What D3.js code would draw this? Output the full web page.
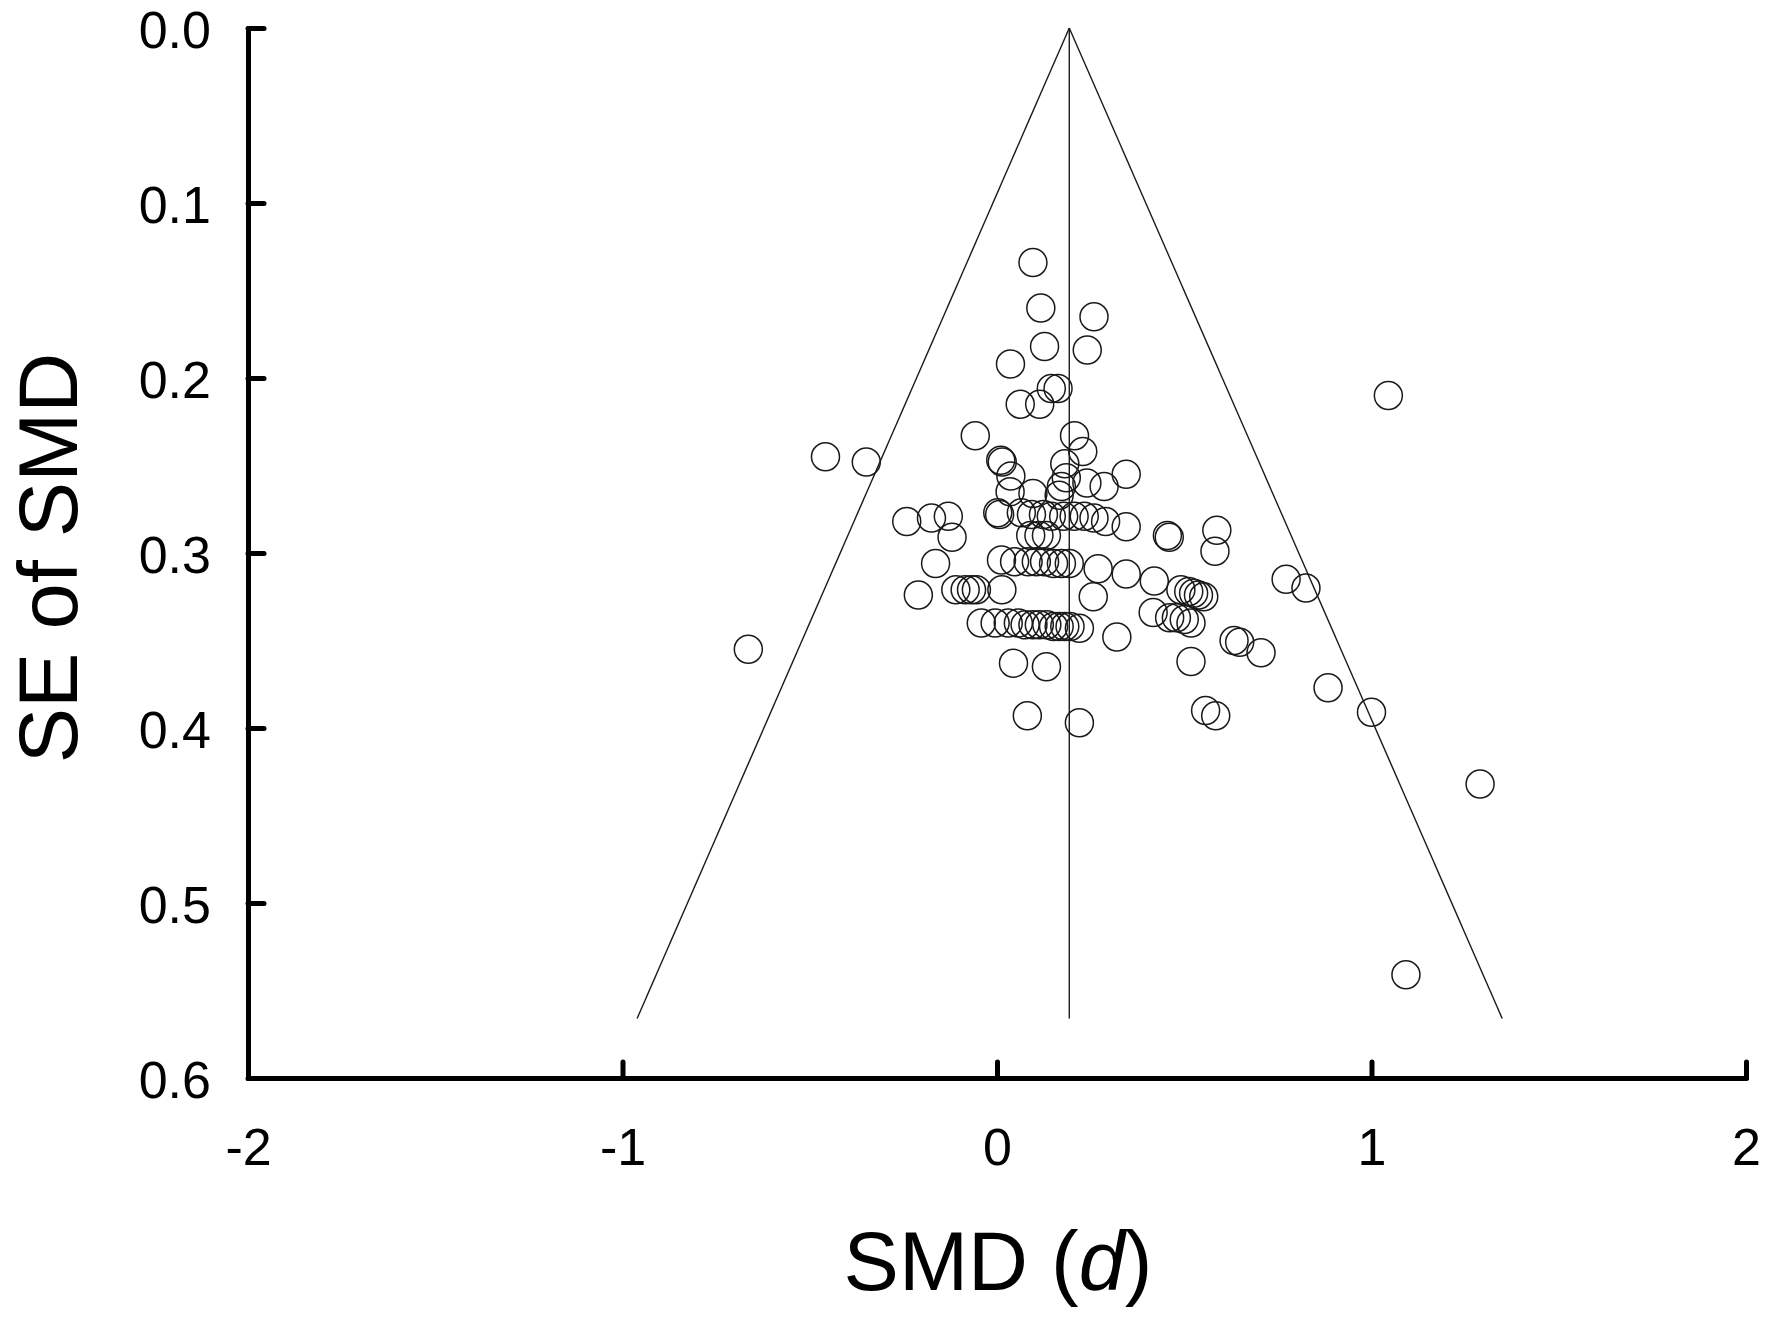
<!DOCTYPE html>
<html>
<head>
<meta charset="utf-8">
<script src="https://cdn.jsdelivr.net/npm/d3@7"></script>
<style>
  html, body { margin: 0; padding: 0; background: #fff; }
  svg { display: block; }
  text { font-family: "Liberation Sans", Arial, sans-serif; fill: #000; }
</style>
</head>
<body>
<svg id="chart" width="1770" height="1320"></svg>
<script>
// ---- data (SMD, SE of SMD) ----
const smd = [
  0.096, 0.117, 0.259, 0.127, 0.241, 0.036, 0.145, 0.163, 0.062, 0.114,
  1.045, -0.058, 0.207, 0.229, -0.458, -0.349, 0.010, 0.014, 0.181, 0.037,
  0.185, 0.240, 0.286, 0.345, 0.172, 0.035, 0.096, 0.166,
  0.002, 0.007, 0.065, 0.092, 0.124, 0.145, 0.178, 0.206, 0.233, 0.259,
  0.290, 0.345, -0.241, -0.175, -0.130, -0.120,
  0.090, 0.112, 0.132, 0.455, 0.460, 0.587, 0.582,
  -0.164, 0.012, 0.047, 0.083, 0.105, 0.127, 0.151, 0.172, 0.193, 0.270,
  0.345, 0.420, 0.772, 0.825,
  -0.210, -0.110, -0.085, -0.068, -0.055, 0.013, 0.491, 0.512, 0.525, 0.538,
  0.552, 0.257, 0.417, 0.461, 0.479, 0.500, 0.518,
  -0.042, -0.005, 0.030, 0.057, 0.075, 0.096, 0.113, 0.133, 0.151, 0.166,
  0.181, 0.195, 0.220, 0.320, 0.633, 0.648, 0.705, -0.664, 0.518, 0.044,
  0.132, 0.884, 0.557, 0.584, 0.081, 0.220, 1.000, 1.290, 1.092
];
const se = [
  0.134, 0.160, 0.165, 0.182, 0.184, 0.192, 0.206, 0.206, 0.215, 0.215,
  0.210, 0.233, 0.233, 0.242, 0.245, 0.248, 0.247, 0.248, 0.249, 0.256,
  0.257, 0.260, 0.262, 0.255, 0.262, 0.265, 0.266, 0.267,
  0.277, 0.278, 0.277, 0.278, 0.278, 0.279, 0.279, 0.279, 0.279, 0.280,
  0.282, 0.285, 0.282, 0.280, 0.279, 0.291,
  0.290, 0.290, 0.290, 0.290, 0.291, 0.287, 0.299,
  0.306, 0.304, 0.305, 0.305, 0.305, 0.305, 0.306, 0.306, 0.306, 0.309,
  0.312, 0.316, 0.315, 0.320,
  0.324, 0.321, 0.321, 0.321, 0.321, 0.321, 0.321, 0.322, 0.323, 0.324,
  0.325, 0.325, 0.334, 0.337, 0.337, 0.338, 0.340,
  0.340, 0.340, 0.340, 0.340, 0.341, 0.341, 0.341, 0.341, 0.342, 0.342,
  0.342, 0.342, 0.343, 0.348, 0.350, 0.351, 0.357, 0.355, 0.362, 0.363,
  0.365, 0.377, 0.390, 0.393, 0.393, 0.397, 0.391, 0.432, 0.541
];

// funnel: apex at pooled SMD, lines to the bottom of the funnel
const funnelCenter = [[0.193, 0], [0.193, 0.566]];
const funnelLeft   = [[0.193, 0], [-0.961, 0.566]];
const funnelRight  = [[0.193, 0], [1.349, 0.566]];

const xTicks = [-2, -1, 0, 1, 2];
const yTicks = [0, 0.1, 0.2, 0.3, 0.4, 0.5, 0.6];
const xTitle = "SMD (";
const xTitleItalic = "d";
const xTitleEnd = ")";
const yTitle = "SE of SMD";

// ---- layout ----
const svg = d3.select("#chart");
const x = d3.scaleLinear().domain([-2, 2]).range([248, 1746]);
const y = d3.scaleLinear().domain([0, 0.6]).range([28, 1078]);

// funnel lines
const line = d3.line().x(d => x(d[0])).y(d => y(d[1]));
[funnelCenter, funnelLeft, funnelRight].forEach(seg => {
  svg.append("path")
    .attr("d", line(seg))
    .attr("fill", "none")
    .attr("stroke", "#1a1a1a")
    .attr("stroke-width", 1.4);
});

// points
const pts = smd.map((v, i) => ({ x: v, y: se[i] }));
svg.append("g").selectAll("circle")
  .data(pts)
  .join("circle")
  .attr("cx", d => x(d.x))
  .attr("cy", d => y(d.y))
  .attr("r", 14)
  .attr("fill", "none")
  .attr("stroke", "#1a1a1a")
  .attr("stroke-width", 1.5);

// axes
const yAxis = d3.axisLeft(y).tickValues(yTicks).tickFormat(d3.format(".1f"))
  .tickSizeInner(-16).tickSizeOuter(0).tickPadding(37);
const gy = svg.append("g").attr("transform", `translate(${x(-2)},0)`).call(yAxis);

const xAxis = d3.axisBottom(x).tickValues(xTicks).tickFormat(d3.format("d"))
  .tickSizeInner(-16).tickSizeOuter(0).tickPadding(50);
const gx = svg.append("g").attr("transform", `translate(0,${y(0.6)})`).call(xAxis);

[gx, gy].forEach(g => {
  g.select(".domain").attr("stroke", "#000").attr("stroke-width", 5)
    .attr("stroke-linecap", "round");
  g.selectAll(".tick line").attr("stroke", "#000").attr("stroke-width", 5)
    .attr("stroke-linecap", "round");
  g.selectAll(".tick text")
    .attr("font-family", "'Liberation Sans', Arial, sans-serif")
    .attr("font-size", 52).attr("fill", "#000");
});
gy.selectAll(".tick text").attr("dy", "0.37em");
gx.selectAll(".tick text").text(d => d < 0 ? "-" + Math.abs(d) : d);

// axis titles
const xt = svg.append("text")
  .attr("x", x(0) + 1).attr("y", 1290)
  .attr("text-anchor", "middle")
  .attr("font-size", 83);
xt.append("tspan").text(xTitle);
xt.append("tspan").attr("font-style", "italic").text(xTitleItalic);
xt.append("tspan").text(xTitleEnd);

svg.append("text")
  .attr("transform", `translate(77,558) rotate(-90)`)
  .attr("text-anchor", "middle")
  .attr("font-size", 83)
  .text(yTitle);
</script>
</body>
</html>
